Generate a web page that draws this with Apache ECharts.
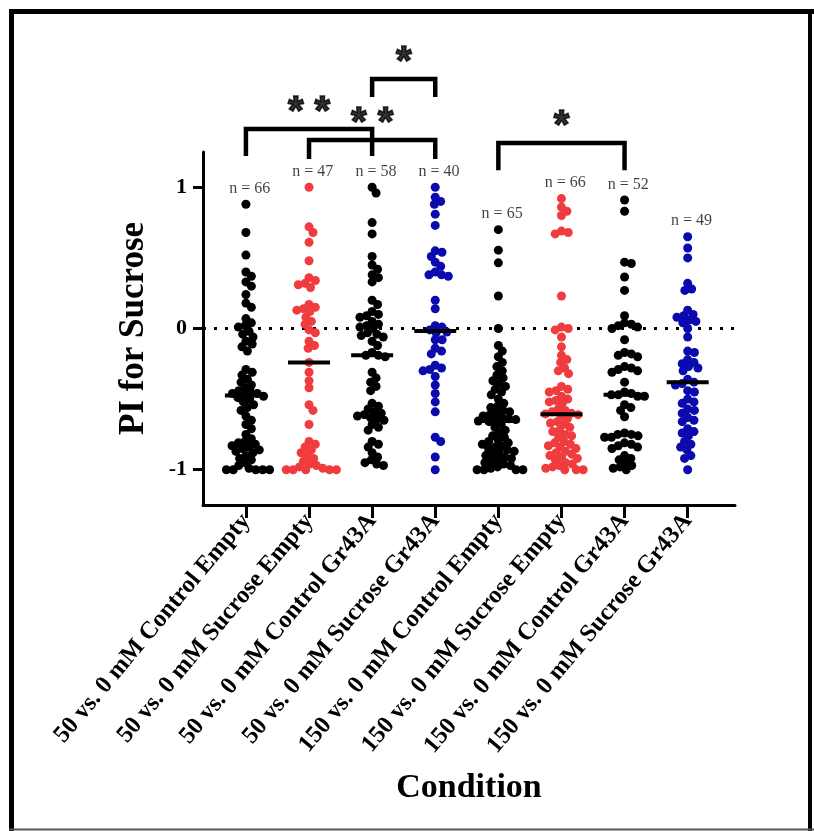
<!DOCTYPE html>
<html><head><meta charset="utf-8">
<script src="https://cdn.jsdelivr.net/npm/echarts@6/dist/echarts.min.js"></script>
<style>html,body{margin:0;padding:0;background:#fff}#c{width:814px;height:831px}</style>
</head><body><div id="c"></div>
<script>
const categories = [
  '50 vs. 0 mM Control Empty', '50 vs. 0 mM Sucrose Empty',
  '50 vs. 0 mM Control Gr43A', '50 vs. 0 mM Sucrose Gr43A',
  '150 vs. 0 mM Control Empty', '150 vs. 0 mM Sucrose Empty',
  '150 vs. 0 mM Control Gr43A', '150 vs. 0 mM Sucrose Gr43A'
];
const groupColors = ['#000000', '#F03C3F', '#000000', '#0A0AAE', '#000000', '#F03C3F', '#000000', '#0A0AAE'];
const yTicks = [-1, 0, 1];

const c50CtrlEmpty = [0.88, 0.68, 0.52, 0.40, 0.37, 0.33, 0.30, 0.24, 0.18, 0.15, 0.07, 0.04, 0.02, 0.01,
  -0.02, -0.04, -0.06, -0.09, -0.11, -0.13, -0.16,
  -0.29, -0.31, -0.33, -0.36, -0.38, -0.40, -0.42, -0.44, -0.45, -0.46, -0.46, -0.47,
  -0.48, -0.49, -0.50, -0.52, -0.54, -0.56, -0.58, -0.62, -0.65, -0.68, -0.71, -0.75, -0.78, -0.80, -0.81,
  -0.82, -0.83, -0.84, -0.85, -0.86, -0.87, -0.88, -0.90, -0.92, -0.93, -0.95, -0.97, -0.99, -1.0, -1.0, -1.0, -1.0, -1.0];
const c50SucEmpty = [1.0, 0.72, 0.68, 0.61, 0.48, 0.36, 0.34, 0.32, 0.31, 0.29, 0.17, 0.15, 0.14, 0.13, 0.12,
  0.08, 0.05, 0.03, -0.01, -0.03, -0.09, -0.12, -0.14, -0.24,
  -0.31, -0.37, -0.42, -0.54, -0.58, -0.68, -0.80, -0.82, -0.84, -0.86, -0.88, -0.90, -0.92, -0.94, -0.96,
  -0.97, -0.98, -0.99, -1.0, -1.0, -1.0, -1.0, -1.0];
const c50CtrlGr = [1.0, 0.96, 0.75, 0.67, 0.51, 0.45, 0.42, 0.38, 0.36, 0.33, 0.20, 0.17, 0.12, 0.10, 0.09,
  0.08, 0.05, 0.03, 0.02, 0.01, 0.0, -0.03, -0.04, -0.05, -0.06, -0.09, -0.12, -0.17, -0.19, -0.19,
  -0.20, -0.31, -0.35, -0.38, -0.41, -0.44, -0.53, -0.55, -0.57, -0.59, -0.60, -0.61, -0.62, -0.63, -0.64,
  -0.65, -0.68, -0.70, -0.72, -0.80, -0.82, -0.84, -0.88, -0.91, -0.93, -0.95, -0.96, -0.97];
const c50SucGr = [1.0, 0.93, 0.90, 0.88, 0.81, 0.73, 0.55, 0.54, 0.51, 0.47, 0.44, 0.40, 0.38, 0.38, 0.37,
  0.20, 0.14, 0.02, 0.01, -0.01, -0.025, -0.03, -0.08, -0.08, -0.14, -0.16, -0.18, -0.26, -0.28, -0.29,
  -0.30, -0.34, -0.40, -0.46, -0.52, -0.59, -0.77, -0.80, -0.91, -1.0];
const c150CtrlEmpty = [0.70, 0.555, 0.465, 0.23, 0.0, -0.12, -0.16, -0.20, -0.24, -0.27, -0.30, -0.33, -0.35,
  -0.37, -0.39, -0.41, -0.43, -0.45, -0.47, -0.50, -0.53, -0.55, -0.56, -0.58, -0.59, -0.60, -0.61, -0.62,
  -0.63, -0.64, -0.645, -0.65, -0.655,
  -0.66, -0.68, -0.70, -0.72, -0.74, -0.76, -0.77, -0.79, -0.80, -0.81, -0.82, -0.83, -0.84, -0.85, -0.86,
  -0.87, -0.88, -0.89, -0.90, -0.91, -0.92, -0.93, -0.94, -0.95, -0.96, -0.97, -0.98, -0.99, -1.0, -1.0, -1.0, -1.0];
const c150SucEmpty = [0.92, 0.86, 0.83, 0.80, 0.69, 0.68, 0.67, 0.23, 0.01, 0.0, -0.01, -0.06, -0.13, -0.19,
  -0.22, -0.24, -0.28, -0.30, -0.32, -0.41, -0.43, -0.44, -0.45, -0.48, -0.50, -0.51, -0.52, -0.53, -0.57,
  -0.58, -0.59, -0.60, -0.605,
  -0.61, -0.62, -0.64, -0.66, -0.67, -0.68, -0.70, -0.72, -0.73, -0.75, -0.76, -0.77, -0.80, -0.81, -0.82,
  -0.83, -0.84, -0.85, -0.87, -0.88, -0.89, -0.90, -0.91, -0.92, -0.93, -0.95, -0.96, -0.97, -0.98, -0.99,
  -1.0, -1.0, -1.0];
const c150CtrlGr = [0.91, 0.83, 0.47, 0.46, 0.365, 0.27, 0.09, 0.04, 0.03, 0.02, 0.01, 0.0, -0.08, -0.17,
  -0.18, -0.19, -0.20, -0.27, -0.28, -0.29, -0.30, -0.31, -0.38, -0.45, -0.46, -0.47, -0.47,
  -0.48, -0.48, -0.54, -0.56, -0.58, -0.625, -0.74, -0.75, -0.75, -0.76, -0.77, -0.77, -0.81, -0.82, -0.83,
  -0.84, -0.85, -0.90, -0.92, -0.93, -0.95, -0.97, -0.98, -0.99, -1.0];
const c150SucGr = [0.65, 0.57, 0.50, 0.32, 0.28, 0.27, 0.13, 0.10, 0.09, 0.08, 0.06, 0.05, 0.04, 0.0, -0.06,
  -0.16, -0.17, -0.22, -0.24, -0.25, -0.27, -0.28, -0.30, -0.36, -0.38,
  -0.39, -0.40, -0.44, -0.45, -0.50, -0.52, -0.53, -0.57, -0.58, -0.60, -0.63, -0.65, -0.66, -0.71, -0.73,
  -0.74, -0.76, -0.80, -0.82, -0.84, -0.86, -0.90, -0.92, -1.0];

const groups = [c50CtrlEmpty, c50SucEmpty, c50CtrlGr, c50SucGr, c150CtrlEmpty, c150SucEmpty, c150CtrlGr, c150SucGr];

// significance comparisons: [fromGroup, toGroup, stars]
const comparisons = [[0, 2, '* *'], [1, 3, '* *'], [2, 3, '*'], [4, 6, '*']];
// bracket layout in y data units (top bar, left leg end, right leg end)
const bracketLevels = [[1.413, 1.222, 1.222], [1.335, 1.20, 1.20], [1.767, 1.64, 1.64], [1.314, 1.12, 1.12]];

const W = 814, H = 831;
const GRID = { left: 203, right: 79, top: 152, bottom: 326 };
const X_MIN = -0.68, X_MAX = 7.75, Y_MIN = -1.25, Y_MAX = 1.25;
const pxPerX = (W - GRID.left - GRID.right) / (X_MAX - X_MIN);
const pxPerY = (H - GRID.top - GRID.bottom) / (Y_MAX - Y_MIN);

function median(a) {
  const s = a.slice().sort((x, y) => x - y); const n = s.length;
  return n % 2 ? s[(n - 1) / 2] : (s[n / 2 - 1] + s[n / 2]) / 2;
}
function swarm(values, D) {
  const idx = values.map((v, i) => i).sort((a, b) => values[b] - values[a]);
  const placed = []; const offs = new Array(values.length);
  for (const i of idx) {
    const y = values[i] * pxPerY;
    const cands = [0];
    for (const p of placed) {
      const dy = Math.abs(p.y - y);
      if (dy < D) { const dx = Math.sqrt(D * D - dy * dy); cands.push(p.x - dx, p.x + dx); }
    }
    cands.sort((a, b) => Math.abs(a) - Math.abs(b) || b - a);
    let best = 0;
    for (const c of cands) {
      let ok = true;
      for (const p of placed) { const dx = p.x - c, dy = p.y - y; if (dx * dx + dy * dy < D * D - 0.01) { ok = false; break; } }
      if (ok) { best = c; break; }
    }
    placed.push({ x: best, y: y }); offs[i] = best / pxPerX;
  }
  return offs;
}

const serif = 'Liberation Serif';
const series = [];
groups.forEach((vals, gi) => {
  const offs = swarm(vals, 6.9);
  series.push({
    type: 'scatter', symbolSize: 9, z: 3, silent: true,
    itemStyle: { color: groupColors[gi], opacity: 1 },
    data: vals.map((v, k) => [gi + offs[k], v]),
    markLine: gi === 0 ? {
      silent: true, symbol: 'none', z: 1, label: { show: false },
      lineStyle: { type: [3, 8], width: 3, color: '#000' },
      data: [{ yAxis: 0 }]
    } : undefined
  });
});
series.push({
  type: 'scatter', symbol: 'rect', symbolSize: [42, 4], z: 5, silent: true,
  itemStyle: { color: '#000', opacity: 1 },
  data: groups.map((vals, gi) => [gi, median(vals)])
});
series.push({
  type: 'scatter', symbolSize: 1, z: 5, silent: true, clip: false,
  itemStyle: { color: 'rgba(0,0,0,0)' },
  label: { show: true, position: 'inside', fontFamily: serif, fontSize: 16, color: '#111',
    formatter: p => 'n = ' + groups[p.dataIndex].length },
  data: groups.map((vals, gi) => [gi + 0.06, Math.max.apply(null, vals) + 0.11])
});
comparisons.forEach((c, k) => {
  const [a, b] = c; const [top, la, lb] = bracketLevels[k];
  series.push({
    type: 'line', clip: false, symbol: 'none', silent: true, z: 4,
    lineStyle: { color: '#000', width: 4.5, cap: 'butt', join: 'miter' },
    data: [[a, la], [a, top], [b, top], [b, lb]]
  });
});
series.push({
  type: 'scatter', symbolSize: 1, clip: false, silent: true, z: 5,
  itemStyle: { color: 'rgba(0,0,0,0)' },
  label: { show: true, position: 'inside', fontFamily: 'Liberation Sans', fontWeight: 'bold', fontSize: 40, color: '#000',
    textBorderColor: '#000', textBorderWidth: 1.6,
    formatter: p => comparisons[p.dataIndex][2] },
  data: comparisons.map((c, k) => [(c[0] + c[1]) / 2, bracketLevels[k][0] + 0.115])
});

const chart = echarts.init(document.getElementById('c'), null, { renderer: 'canvas' });
chart.setOption({
  backgroundColor: '#fff',
  animation: false,
  grid: Object.assign({ containLabel: false, outerBoundsMode: 'none' }, GRID),
  xAxis: {
    type: 'value', min: X_MIN, max: X_MAX,
    name: 'Condition', nameLocation: 'middle', nameGap: 266,
    nameTextStyle: { fontFamily: serif, fontWeight: 'bold', fontSize: 34, color: '#000' },
    axisLine: { show: true, onZero: false, lineStyle: { color: '#000', width: 3 } },
    axisTick: { show: true, length: 13, lineStyle: { color: '#000', width: 3 }, customValues: categories.map((c, i) => i) },
    axisLabel: { show: true, rotate: 50, margin: 12, fontFamily: serif, fontWeight: 'bold', fontSize: 24.5, color: '#000',
      customValues: categories.map((c, i) => i), formatter: v => categories[Math.round(v)] },
    splitLine: { show: false }
  },
  yAxis: {
    type: 'value', min: Y_MIN, max: Y_MAX,
    name: 'PI for Sucrose', nameLocation: 'middle', nameGap: 52, nameRotate: 90,
    nameTextStyle: { fontFamily: serif, fontWeight: 'bold', fontSize: 35, color: '#000' },
    axisLine: { show: true, onZero: false, lineStyle: { color: '#000', width: 3 } },
    axisTick: { show: true, length: 10, lineStyle: { color: '#000', width: 3 }, customValues: yTicks },
    axisLabel: { show: true, margin: 16, fontFamily: serif, fontWeight: 'bold', fontSize: 22, color: '#000',
      customValues: yTicks, formatter: v => String(v) },
    splitLine: { show: false }
  },
  graphic: [
    { type: 'line', shape: { x1: 11.5, y1: 9, x2: 11.5, y2: 831 }, style: { stroke: '#000', lineWidth: 5 } },
    { type: 'line', shape: { x1: 9, y1: 11.5, x2: 814, y2: 11.5 }, style: { stroke: '#000', lineWidth: 5 } },
    { type: 'line', shape: { x1: 810, y1: 9, x2: 810, y2: 831 }, style: { stroke: '#000', lineWidth: 4 } },
    { type: 'line', shape: { x1: 9, y1: 829.5, x2: 814, y2: 829.5 }, style: { stroke: '#555', lineWidth: 2 } }
  ],
  series: series
});
</script></body></html>
